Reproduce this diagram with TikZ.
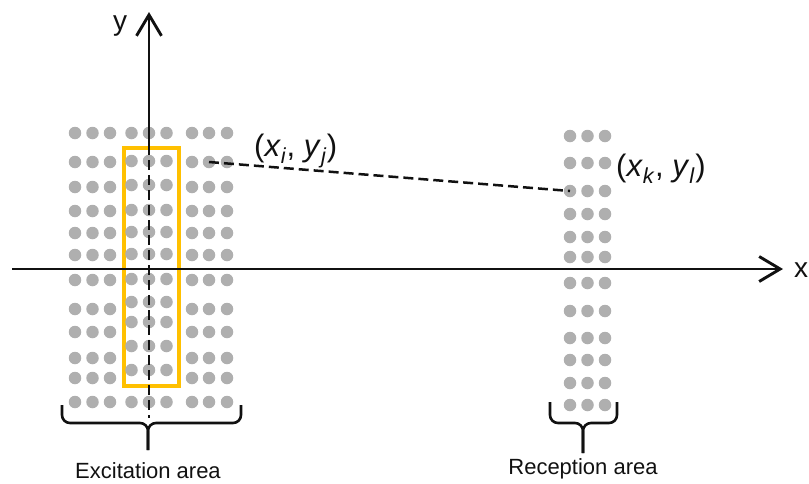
\documentclass[tikz,border=0pt]{standalone}
\usepackage{fontspec}
\setmainfont{Liberation Sans}
\usepackage{tikz}
\usetikzlibrary{arrows.meta,positioning}
\definecolor{dotgrey}{HTML}{AFAFAF}
\definecolor{gold}{HTML}{FFC000}
\definecolor{ink}{HTML}{111111}
\tikzset{
  elem/.style={circle,fill=dotgrey,minimum size=12.5pt,inner sep=0pt},
  axis/.style={-{Straight Barb[length=21pt,width=25pt]},line width=2.9pt,draw=ink},
  guide/.style={line width=2.5pt,draw=ink,dash pattern=on 10pt off 5pt},
  brace/.style={line width=2.6pt,draw=ink,rounded corners=8pt},
  axlabel/.style={font=\fontsize{28}{32}\selectfont,text=ink,inner sep=0pt},
  poslabel/.style={font=\fontsize{31}{36}\selectfont,text=ink,inner sep=0pt,anchor=base west},
  area/.style={font=\fontsize{22}{26}\selectfont,text=ink,inner sep=0pt},
}
\newcommand{\gridpos}[2]{(\textit{x}\textsubscript{\textit{#1}}, \textit{y}\textsubscript{\textit{#2}})}

\begin{document}
\begin{tikzpicture}[x=1pt,y=-1pt]
  \useasboundingbox (0,0) rectangle (809,483);
  \draw[gold,line width=3.4pt] (124,148) rectangle (179,386);
  \foreach \x/\c in {75/1,92.5/2,110/3,192/7,209/8,227/9}
    \foreach \y [count=\r] in {133,162,187,211,233,255,280,309,332,358,378,402}
      \node[elem] (e-\c-\r) at (\x,\y) {};
  \foreach \x/\c in {131.5/4,149/5,166.5/6}
    \foreach \y [count=\r] in {133,161,185,210,232,254,279,302,322,346,370,402}
      \node[elem] (e-\c-\r) at (\x,\y) {};
  \foreach \x/\c in {570/1,587.5/2,605/3}
    \foreach \y [count=\r] in {136,163,191,214,237,257,283,311,338,360,383,405}
      \node[elem] (r-\c-\r) at (\x,\y) {};
  \coordinate (xstart) at (12,269);
  \coordinate (xend) at (783,269);
  \coordinate (ytop) at (149,12);
  \coordinate (ysplit) at (149,145);
  \coordinate (ybot) at (149,418);
  \draw[axis] (xstart) -- (xend);
  \draw[axis] (ysplit) -- (ytop);
  \draw[guide] (ysplit) -- (ybot);
  \draw[guide] (e-8-2.center) -- (r-1-3.center);
  \node[axlabel,anchor=base] (ylab) at (120,30) {y};
  \node[axlabel] (xlab) at (801,270) {x};
  \node[poslabel] (pij) at (254,156) {\gridpos{i}{j}};
  \node[poslabel] (pkl) at (616,176) {\gridpos{k}{l}};
  \coordinate (lt) at (148,450);
  \coordinate (rt) at (583,453);
  \draw[brace] (62,405) -- (62,423) -- (148,423) -- (lt);
  \draw[brace] (241,405) -- (241,423) -- (148,423) -- (lt);
  \draw[brace] (550,402) -- (550,423) -- (583,423) -- (rt);
  \draw[brace] (617,402) -- (617,423) -- (583,423) -- (rt);
  \node[area,below=12pt of lt] (exc) {Excitation area};
  \node[area,below=5pt of rt] (rec) {Reception area};
\end{tikzpicture}
\end{document}
